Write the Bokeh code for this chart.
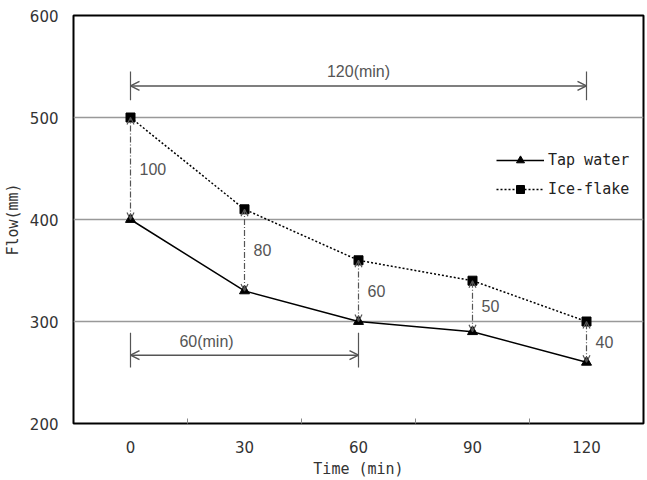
from bokeh.plotting import figure
from bokeh.models import (ColumnDataSource, Arrow, OpenHead, FixedTicker, Legend, LegendItem, Label)
from bokeh.core.properties import value
from bokeh.embed import file_html
from bokeh.resources import INLINE

time_min = [0, 30, 60, 90, 120]
tap_water = [400, 330, 300, 290, 260]
ice_flake = [500, 410, 360, 340, 300]
x_ticks = [0, 30, 60, 90, 120]
y_ticks = [200, 300, 400, 500, 600]

diffs = [i - t for i, t in zip(ice_flake, tap_water)]
mids = [(i + t) / 2 for i, t in zip(ice_flake, tap_water)]

p = figure(width=647, height=480, output_backend="svg", toolbar_location=None,
           x_range=(-15, 135), y_range=(200, 600),
           min_border_left=72, min_border_right=4, min_border_top=15, min_border_bottom=57)
p.background_fill_color = "white"
p.border_fill_color = "white"
p.outline_line_color = "black"
p.outline_line_width = 2

TICKF = "DejaVu Sans"
FONT = "DejaVu Sans Mono"
ANN = "#555555"

# axes
p.xaxis.ticker = FixedTicker(ticks=x_ticks, minor_ticks=[15, 45, 75, 105])
p.xaxis.major_tick_line_color = None
p.xaxis.minor_tick_in = 5
p.xaxis.minor_tick_out = 0
p.xaxis.minor_tick_line_color = "#888888"
p.xaxis.axis_line_color = None
p.xaxis.major_label_text_font = TICKF
p.xaxis.major_label_text_font_size = "15px"
p.xaxis.major_label_text_color = "#333333"
p.xaxis.major_label_standoff = 11
p.xaxis.axis_label = "Time (min)"
p.xaxis.axis_label_text_font = FONT
p.xaxis.axis_label_text_font_size = "15px"
p.xaxis.axis_label_text_font_style = "normal"
p.xaxis.axis_label_text_color = "#333333"
p.xaxis.axis_label_standoff = 4

p.yaxis.ticker = FixedTicker(ticks=y_ticks)
p.yaxis.major_tick_line_color = None
p.yaxis.minor_tick_line_color = None
p.yaxis.axis_line_color = None
p.yaxis.major_label_text_font = TICKF
p.yaxis.major_label_text_font_size = "15px"
p.yaxis.major_label_text_color = "#333333"
p.yaxis.major_label_standoff = 9
p.yaxis.axis_label = "Flow(mm)"
p.yaxis.axis_label_text_font = FONT
p.yaxis.axis_label_text_font_size = "15px"
p.yaxis.axis_label_text_font_style = "normal"
p.yaxis.axis_label_text_color = "#333333"
p.yaxis.axis_label_standoff = 5

p.xgrid.grid_line_color = None
p.ygrid.ticker = FixedTicker(ticks=y_ticks)
p.ygrid.grid_line_color = "#999999"
p.ygrid.grid_line_width = 1.5

src = ColumnDataSource(dict(t=time_min, tap=tap_water, ice=ice_flake, d=[str(v) for v in diffs], m=mids))

# vertical difference arrows
p.add_layout(Arrow(source=src, x_start="t", y_start="tap", x_end="t", y_end="ice",
                   line_color=ANN, line_width=1.2, line_dash="6 2 1 2",
                   start=OpenHead(size=7, line_color=ANN, line_width=1.2),
                   end=OpenHead(size=7, line_color=ANN, line_width=1.2)))
p.text(x="t", y="m", text="d", source=src, x_offset=9, text_baseline="middle", text_align="left",
       text_font=value("Liberation Sans"), text_font_size="16px", text_color=ANN)

# lines
l1 = p.line(time_min, tap_water, line_color="black", line_width=1.5)
s1 = p.scatter(time_min, tap_water, marker="triangle", size=10, color="black")
l2 = p.line(time_min, ice_flake, line_color="black", line_width=1.5, line_dash="2 2")
s2 = p.scatter(time_min, ice_flake, marker="square", size=9, color="black")

legend = Legend(items=[LegendItem(label="Tap water", renderers=[l1, s1]),
                       LegendItem(label="Ice-flake", renderers=[l2, s2])],
                location=(423, 224), border_line_color=None, background_fill_alpha=0,
                label_text_font=FONT, label_text_font_size="15px", label_text_color="#222222",
                glyph_width=48, glyph_height=20, spacing=9, label_standoff=4, padding=2, margin=0)
p.add_layout(legend)

# duration spans
span_y = [531, 267]
span_end = [time_min[-1], time_min[2]]
span_bar = [(517, 545), (255, 289)]
span_text_y = [545, 280]
span_text_x = [60, 20]
for yv, xe, (b0, b1), ty, tx in zip(span_y, span_end, span_bar, span_text_y, span_text_x):
    p.segment(x0=[time_min[0], xe], y0=[b0, b0], x1=[time_min[0], xe], y1=[b1, b1],
              line_color=ANN, line_width=1.2)
    p.add_layout(Arrow(x_start=time_min[0], y_start=yv, x_end=xe, y_end=yv,
                       line_color=ANN, line_width=1.5,
                       start=OpenHead(size=9, line_color=ANN, line_width=1.5),
                       end=OpenHead(size=9, line_color=ANN, line_width=1.5)))
    p.add_layout(Label(x=tx, y=ty, text=f"{xe - time_min[0]}(min)", text_align="center",
                       text_baseline="middle", text_font="Liberation Sans", text_font_size="16px",
                       text_color=ANN))

open("out.html", "w").write(file_html(p, INLINE))
